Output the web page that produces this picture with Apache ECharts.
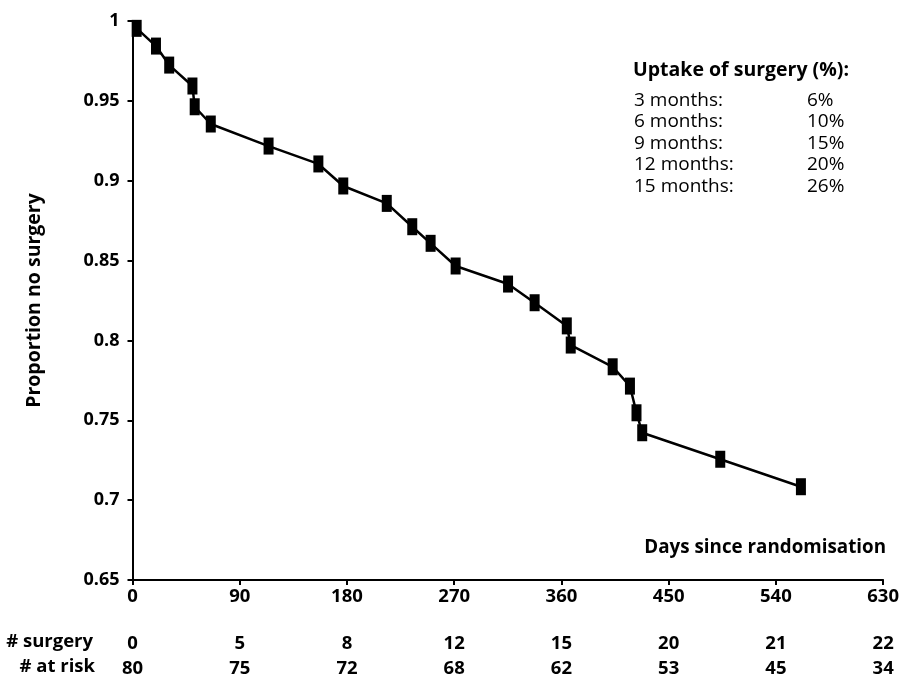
<!DOCTYPE html>
<html>
<head>
<meta charset="utf-8">
<script src="https://cdn.jsdelivr.net/npm/echarts@6/dist/echarts.min.js"></script>
<style>
html,body{margin:0;padding:0;background:#fff;}
#main{width:902px;height:681px;}
</style>
</head>
<body>
<div id="main"></div>
<script>
// Data
var days = [3.5, 19.7, 30.8, 50.3, 52.2, 65.7, 114.2, 156, 176.9, 213.4, 234.8, 250.2, 271.2, 315.2, 337.5, 364.5, 367.8, 403, 417.5, 423, 427.8, 493.3, 561];
var proportion = [0.9954, 0.9843, 0.9724, 0.9593, 0.9463, 0.9355, 0.9217, 0.9105, 0.8967, 0.8858, 0.8712, 0.8608, 0.8466, 0.8353, 0.8236, 0.8091, 0.7971, 0.7835, 0.7714, 0.7547, 0.7422, 0.7256, 0.7084];
var xTicks = [0, 90, 180, 270, 360, 450, 540, 630];
var surgeryCounts = [0, 5, 8, 12, 15, 20, 21, 22];
var atRiskCounts = [80, 75, 72, 68, 62, 53, 45, 34];
var uptakeLabels = ['3 months:', '6 months:', '9 months:', '12 months:', '15 months:'];
var uptakeValues = ['6%', '10%', '15%', '20%', '26%'];

var FONT = '"Open Sans", sans-serif';
var chart = echarts.init(document.getElementById('main'), null, {renderer: 'canvas'});

var seriesData = days.map(function (d, i) { return [d, proportion[i]]; });

function rowAxis(offset, arr) {
  return {
    type: 'value', gridIndex: 0, position: 'bottom', offset: offset,
    min: 0, max: 630, interval: 90,
    axisLine: {show: false}, axisTick: {show: false}, splitLine: {show: false},
    axisLabel: {
      color: '#000', fontFamily: FONT, fontWeight: 'bold', fontSize: 18.5,
      formatter: function (v) { var i = xTicks.indexOf(v); return i >= 0 ? String(arr[i]) : ''; }
    }
  };
}

var graphics = [
  {type: 'text', left: 633, top: 60, style: {text: 'Uptake of surgery (%):', font: 'bold 19.5px ' + FONT, fill: '#000'}},
  {type: 'text', right: 16, top: 538, style: {text: 'Days since randomisation', font: 'bold 18.8px ' + FONT, fill: '#000'}},
  {type: 'text', right: 809, top: 632, style: {text: '# surgery', font: 'bold 18.5px ' + FONT, fill: '#000'}},
  {type: 'text', right: 807, top: 657, style: {text: '# at risk', font: 'bold 18.5px ' + FONT, fill: '#000'}}
];
uptakeLabels.forEach(function (lab, i) {
  graphics.push({type: 'text', left: 634, top: 91 + i * 21.5, style: {text: lab, font: '19px ' + FONT, fill: '#000'}});
  graphics.push({type: 'text', left: 807, top: 91 + i * 21.5, style: {text: uptakeValues[i], font: '19px ' + FONT, fill: '#000'}});
});

chart.setOption({
  animation: false,
  backgroundColor: '#fff',
  grid: {left: 132.5, right: 16, top: 21, bottom: 101, containLabel: false},
  xAxis: [
    {
      type: 'value', min: 0, max: 630, interval: 90,
      axisLine: {show: true, onZero: false, lineStyle: {color: '#000', width: 2}},
      axisTick: {show: true, length: 5, lineStyle: {color: '#000', width: 2}},
      splitLine: {show: false},
      axisLabel: {color: '#000', fontFamily: FONT, fontWeight: 'bold', fontSize: 18.5, margin: 7}
    },
    rowAxis(46, surgeryCounts),
    rowAxis(71, atRiskCounts)
  ],
  yAxis: {
    type: 'value', min: 0.65, max: 1, interval: 0.05,
    name: 'Proportion no surgery', nameLocation: 'middle', nameGap: 88, nameRotate: 90,
    nameTextStyle: {color: '#000', fontFamily: FONT, fontWeight: 'bold', fontSize: 19.5},
    axisLine: {show: true, onZero: false, lineStyle: {color: '#000', width: 2}},
    axisTick: {show: true, length: 5, lineStyle: {color: '#000', width: 2}},
    splitLine: {show: false},
    axisLabel: {color: '#000', fontFamily: FONT, fontWeight: 'bold', fontSize: 18, margin: 13,
      formatter: function (v) { return String(parseFloat(v.toFixed(2))); }}
  },
  series: [{
    type: 'line', xAxisIndex: 0, data: seriesData,
    symbol: 'rect', symbolSize: [10, 17], showSymbol: true,
    lineStyle: {color: '#000', width: 2.5},
    itemStyle: {color: '#000'}
  }],
  graphic: graphics
});
</script>
</body>
</html>
